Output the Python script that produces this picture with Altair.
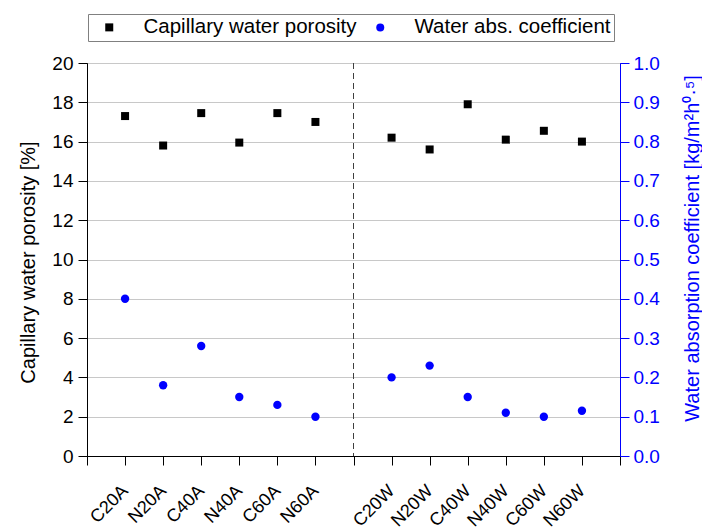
import altair as alt
import pandas as pd

# Samples and their slot on the x axis (gap at 7 separates the A and W series)
samples = ["C20A", "N20A", "C40A", "N40A", "C60A", "N60A",
           "C20W", "N20W", "C40W", "N40W", "C60W", "N60W"]
slots = [1, 2, 3, 4, 5, 6, 8, 9, 10, 11, 12, 13]

# Capillary water porosity [%]
porosity = [17.3, 15.8, 17.45, 15.95, 17.45, 17.0,
            16.2, 15.6, 17.9, 16.1, 16.55, 16.0]

# Water absorption coefficient [kg/m2h0.5]
abs_coef = [0.40, 0.18, 0.28, 0.15, 0.13, 0.10,
            0.20, 0.23, 0.15, 0.11, 0.10, 0.115]

divider = [7]
left_ticks = [0, 2, 4, 6, 8, 10, 12, 14, 16, 18, 20]
right_ticks = [0.0, 0.1, 0.2, 0.3, 0.4, 0.5, 0.6, 0.7, 0.8, 0.9, 1.0]
x_ticks = list(range(15))

por_name = "Capillary water porosity"
abs_name = "Water abs. coefficient"

por_df = pd.DataFrame({"sample": samples, "slot": slots, "value": porosity, "series": por_name})
abs_df = pd.DataFrame({"sample": samples, "slot": slots, "value": abs_coef, "series": abs_name})
div_df = pd.DataFrame({"slot": divider})

font = "Liberation Sans"

# label lookup: slot -> sample name (blank where no sample sits)
lookup = [""] * len(x_ticks)
for s, n in zip(slots, samples):
    lookup[s] = n
label_expr = "[" + ",".join("'" + t + "'" for t in lookup) + "][datum.value]"

x_enc = alt.X(
    "slot:Q",
    scale=alt.Scale(domain=[0, 14], nice=False, zero=False),
    axis=alt.Axis(
        values=x_ticks, labelExpr=label_expr, labelAngle=315,
        labelAlign="right", labelBaseline="middle", labelPadding=23,
        labelOverlap=False, labelFlush=False, tickSize=9, grid=False,
        domainColor="black", tickColor="black", labelColor="black",
        labelFontSize=18, labelFont=font, title=None,
    ),
)

series_domain = [por_name, abs_name]
# a blank left-side title leaves the empty margin inside the legend frame
legend = alt.Legend(
    orient="none", legendX=1, legendY=-49, direction="horizontal",
    title=" ", titleOrient="left", titleFontSize=20, titlePadding=8,
    strokeColor="#808080", padding=3, fillColor="white",
    labelFontSize=20.5, labelFont=font, labelColor="black", labelLimit=400,
    symbolSize=64, labelOffset=24, columnPadding=13,
)
color_enc = alt.Color("series:N", scale=alt.Scale(domain=series_domain, range=["black", "blue"]), legend=legend)
shape_enc = alt.Shape("series:N", scale=alt.Scale(domain=series_domain, range=["square", "circle"]), legend=legend)

porosity_layer = alt.Chart(por_df).mark_point(filled=True, size=64, opacity=1).encode(
    x=x_enc,
    y=alt.Y(
        "value:Q",
        scale=alt.Scale(domain=[0, 20], nice=False),
        axis=alt.Axis(
            values=left_ticks, title="Capillary water porosity [%]",
            titleFontSize=20, titleFont=font, titleFontWeight="normal",
            titleColor="black", titleAngle=270, titleX=-59, titleY=199,
            titleAlign="center", titleBaseline="middle",
            labelFontSize=19, labelFont=font, labelColor="black", labelPadding=5,
            tickSize=9, tickColor="black", domainColor="black",
            grid=True, gridColor="#c8c8c8", gridWidth=1,
        ),
    ),
    color=color_enc,
    shape=shape_enc,
)

abs_layer = alt.Chart(abs_df).mark_point(filled=True, size=70, opacity=1).encode(
    x=x_enc,
    y=alt.Y(
        "value:Q",
        scale=alt.Scale(domain=[0, 1], nice=False),
        axis=alt.Axis(
            orient="right", values=right_ticks, format=".1f",
            title="Water absorption coefficient [kg/m²h⁰·⁵]",
            titleFontSize=20, titleFont=font, titleFontWeight="normal",
            titleColor="blue", titleAngle=270, titleX=72, titleY=185,
            titleAlign="center", titleBaseline="middle",
            labelFontSize=19, labelFont=font, labelColor="blue", labelPadding=4,
            tickSize=9, tickColor="blue", domainColor="blue", grid=False,
        ),
    ),
    color=color_enc,
    shape=shape_enc,
)

divider_layer = alt.Chart(div_df).mark_rule(
    color="#404040", strokeDash=[6, 4], strokeWidth=1
).encode(x=x_enc)

chart = (
    alt.layer(divider_layer, porosity_layer, abs_layer)
    .resolve_scale(y="independent")
    .properties(
        width=533, height=393,
        padding={"left": 87, "top": 63, "right": 82, "bottom": 74},
        autosize=alt.AutoSizeParams(type="none"),
        background="white",
    )
    .configure_view(stroke="black", strokeWidth=1)
)

chart.save("out.html", embed_options={"renderer": "svg", "actions": False})
